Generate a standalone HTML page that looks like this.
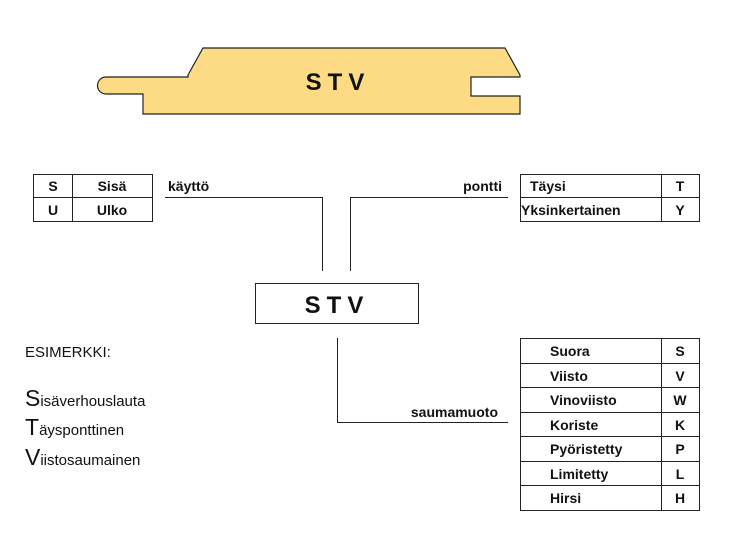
<!DOCTYPE html>
<html><head><meta charset="utf-8"><style>
body{margin:0;background:#fff;}
svg text{font-family:"Liberation Sans",Arial,sans-serif;fill:#111;}
</style></head><body>
<svg width="729" height="533" viewBox="0 0 729 533" xmlns="http://www.w3.org/2000/svg">
<path d="M203,48 L505,48 L520,75 L520,77 L471,77 L471,96 L520,96 L520,114 L143,114 L143,94 L106,94 A8.5,8.5 0 0 1 106,77 L188,77 L188,75 Z" fill="#fddb84" stroke="#222" stroke-width="1.2"/>
<text x="338" y="90" font-size="24" text-anchor="middle" letter-spacing="6" font-weight="600">STV</text>
<g fill="none" stroke="#222" stroke-width="1">
<rect x="33.5" y="174.5" width="119" height="47"/><line x1="33" y1="197.5" x2="152" y2="197.5"/><line x1="72.5" y1="174" x2="72.5" y2="221"/>
<rect x="520.5" y="174.5" width="179" height="47"/><line x1="520" y1="197.5" x2="699" y2="197.5"/><line x1="661.5" y1="174" x2="661.5" y2="221"/>
<rect x="520.5" y="338.5" width="179" height="172"/><line x1="661.5" y1="338" x2="661.5" y2="510"/>
<line x1="520" y1="363.5" x2="699" y2="363.5"/><line x1="520" y1="387.5" x2="699" y2="387.5"/><line x1="520" y1="412.5" x2="699" y2="412.5"/><line x1="520" y1="436.5" x2="699" y2="436.5"/><line x1="520" y1="461.5" x2="699" y2="461.5"/><line x1="520" y1="485.5" x2="699" y2="485.5"/>
<polyline points="165,197.5 322.5,197.5 322.5,271"/>
<polyline points="508,197.5 350.5,197.5 350.5,271"/>
<rect x="255.5" y="283.5" width="163" height="40"/>
<polyline points="337.5,338 337.5,422.5 508,422.5"/>
</g>
<g font-size="14" font-weight="bold" text-anchor="middle">
<text x="53" y="191">S</text><text x="112" y="191">Sisä</text>
<text x="53" y="215">U</text><text x="112" y="215">Ulko</text>
<text x="680" y="191">T</text><text x="680" y="215">Y</text>
<text x="680" y="356">S</text><text x="680" y="381">V</text><text x="680" y="405">W</text><text x="680" y="430">K</text><text x="680" y="454">P</text><text x="680" y="479">L</text><text x="680" y="503">H</text>
</g>
<g font-size="14" font-weight="bold">
<text x="530" y="191">Täysi</text><text x="521" y="215">Yksinkertainen</text>
<text x="550" y="356">Suora</text><text x="550" y="381">Viisto</text><text x="550" y="405">Vinoviisto</text><text x="550" y="430">Koriste</text><text x="550" y="454">Pyöristetty</text><text x="550" y="479">Limitetty</text><text x="550" y="503">Hirsi</text>
<text x="168" y="191">käyttö</text>
<text x="502" y="191" text-anchor="end">pontti</text>
<text x="498" y="417" text-anchor="end">saumamuoto</text>
</g>
<text x="337" y="313" font-size="24" text-anchor="middle" letter-spacing="6" font-weight="600">STV</text>
<g font-size="15">
<text x="25" y="357">ESIMERKKI:</text>
<text x="25" y="406"><tspan font-size="23">S</tspan>isäverhouslauta</text>
<text x="25" y="435"><tspan font-size="23">T</tspan>äysponttinen</text>
<text x="25" y="465"><tspan font-size="23">V</tspan>iistosaumainen</text>
</g>
</svg>
</body></html>
